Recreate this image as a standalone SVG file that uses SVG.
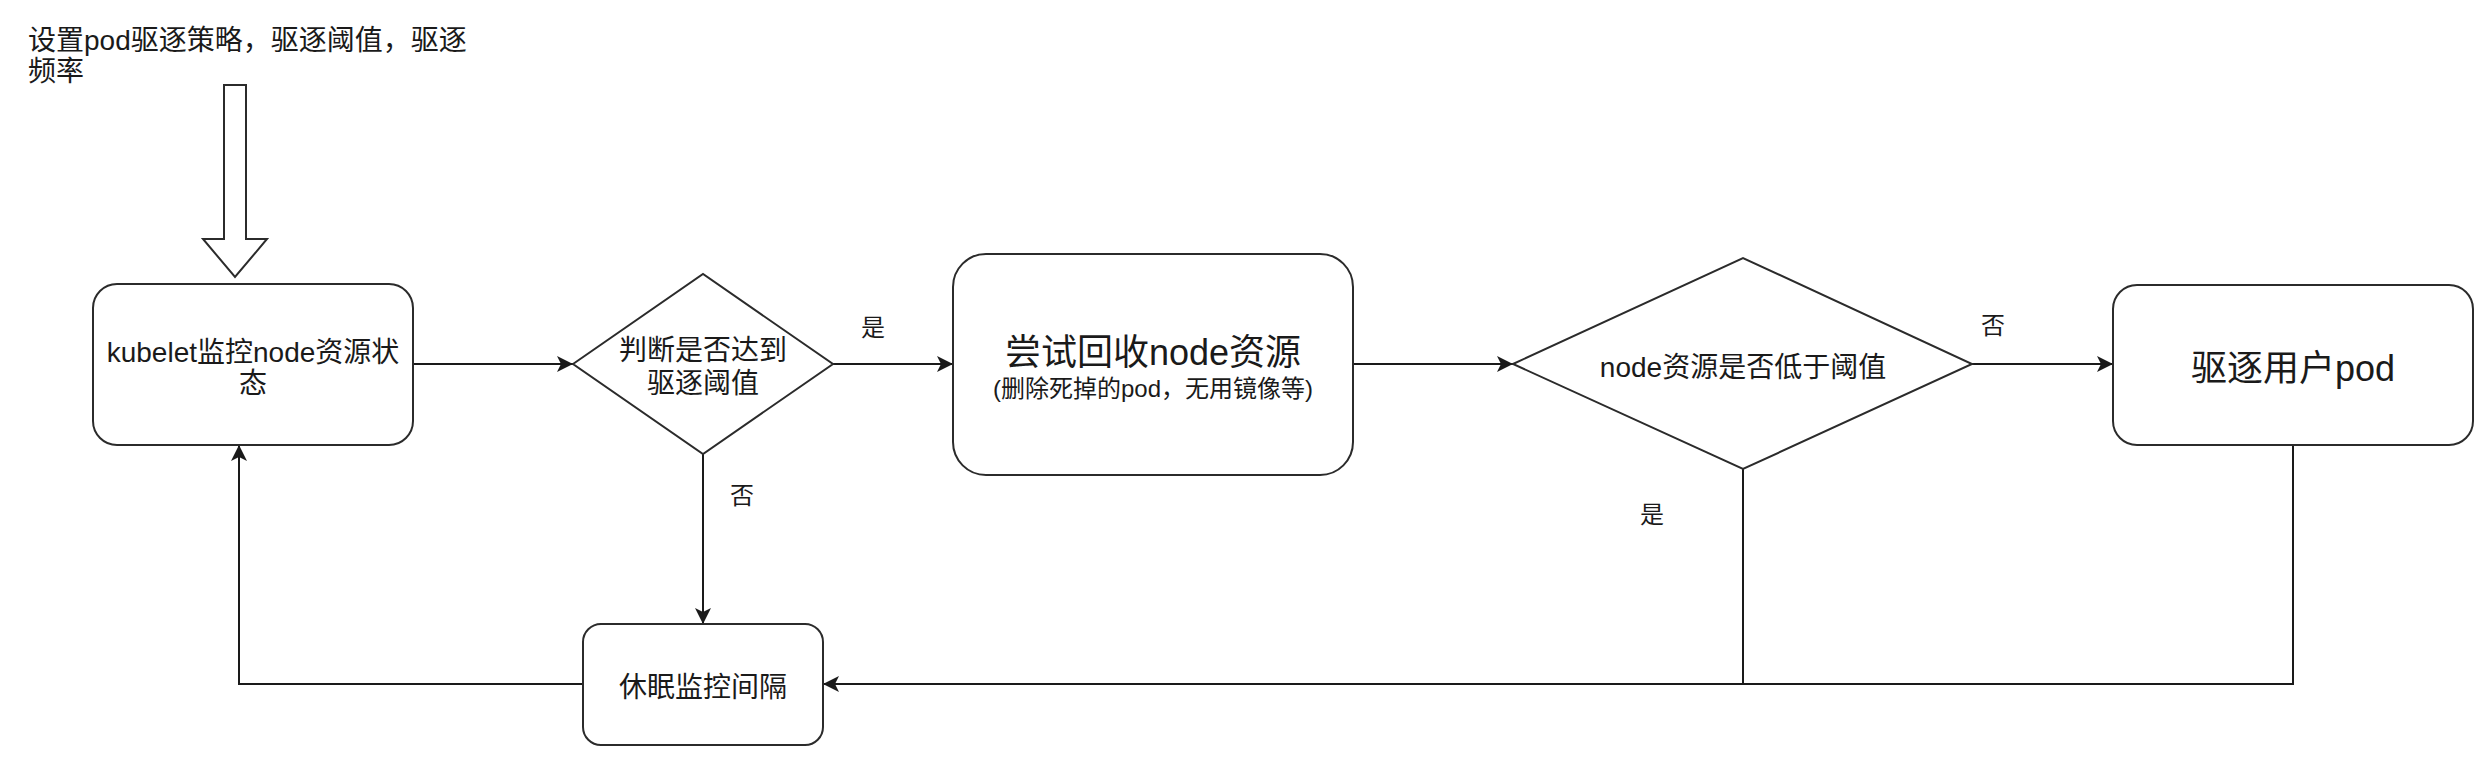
<svg xmlns="http://www.w3.org/2000/svg" width="2490" height="770" viewBox="0 0 2490 770">
<style>
.shape{fill:#fff;stroke:#2b2b2b;stroke-width:2}
.edge{fill:none;stroke:#1a1a1a;stroke-width:2}
text{font-family:"Liberation Sans","Noto Sans CJK SC",sans-serif;fill:#1a1a1a;dominant-baseline:central}
.c{text-anchor:middle}
.f28{font-size:28px}
.f36{font-size:36px}
.f24{font-size:24px}
</style>
<defs>
<marker id="arr" viewBox="0 0 16 16" refX="16" refY="8" markerWidth="16" markerHeight="16" markerUnits="userSpaceOnUse" orient="auto">
<path d="M0,0 L16,8 L0,16 L4,8 Z" fill="#1a1a1a"/>
</marker>
</defs>
<rect width="2490" height="770" fill="#fff"/>
<g id="title">
<text class="f28" x="28" y="40">设置pod驱逐策略，驱逐阈值，驱逐</text>
<text class="f28" x="28" y="71">频率</text>
</g>
<g id="block-arrow">
<polygon class="shape" points="224,85 246,85 246,239 267,239 235,277 203,239 224,239"/>
</g>
<g id="connectors">
<path class="edge" d="M413,364 L573,364" marker-end="url(#arr)"/>
<path class="edge" d="M833,364 L953,364" marker-end="url(#arr)"/>
<path class="edge" d="M1353,364 L1513,364" marker-end="url(#arr)"/>
<path class="edge" d="M1972,364 L2113,364" marker-end="url(#arr)"/>
<path class="edge" d="M703,454 L703,624" marker-end="url(#arr)"/>
<path class="edge" d="M583,684 L239,684 L239,445" marker-end="url(#arr)"/>
<path class="edge" d="M1743,469 L1743,684 L823,684" marker-end="url(#arr)"/>
<path class="edge" d="M2293,445 L2293,684 L1743,684"/>
<text class="f24 c" x="873" y="327">是</text>
<text class="f24 c" x="742" y="495">否</text>
<text class="f24 c" x="1993" y="325">否</text>
<text class="f24 c" x="1652" y="514">是</text>
</g>
<g id="kubelet">
<rect class="shape" x="93" y="284" width="320" height="161" rx="24"/>
<text class="f28 c" x="253" y="352">kubelet监控node资源状</text>
<text class="f28 c" x="253" y="383">态</text>
</g>
<g id="judge">
<polygon class="shape" points="573,364 703,274 833,364 703,454"/>
<text class="f28 c" x="703" y="350">判断是否达到</text>
<text class="f28 c" x="703" y="383">驱逐阈值</text>
</g>
<g id="reclaim">
<rect class="shape" x="953" y="254" width="400" height="221" rx="33"/>
<text class="f36 c" x="1153" y="352">尝试回收node资源</text>
<text class="f24 c" x="1153" y="388">(删除死掉的pod，无用镜像等)</text>
</g>
<g id="below">
<polygon class="shape" points="1513,364 1743,258 1972,364 1743,469"/>
<text class="f28 c" x="1743" y="367">node资源是否低于阈值</text>
</g>
<g id="evict">
<rect class="shape" x="2113" y="285" width="360" height="160" rx="24"/>
<text class="f36 c" x="2293" y="368">驱逐用户pod</text>
</g>
<g id="sleep">
<rect class="shape" x="583" y="624" width="240" height="121" rx="18"/>
<text class="f28 c" x="703" y="687">休眠监控间隔</text>
</g>
</svg>
